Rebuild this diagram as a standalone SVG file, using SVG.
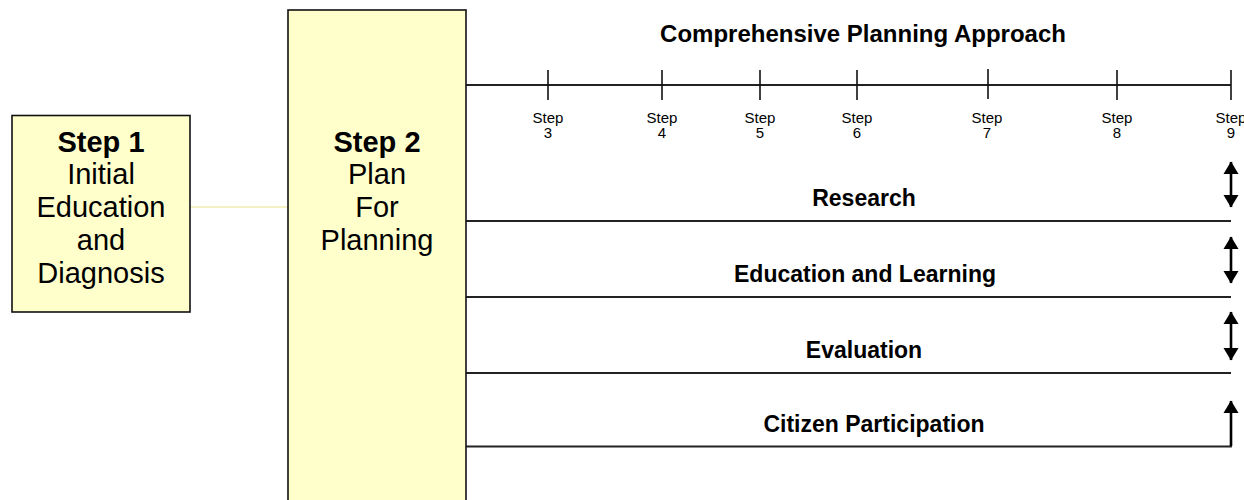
<svg xmlns="http://www.w3.org/2000/svg" width="1244" height="500" viewBox="0 0 1244 500">
  <style>
    .box { fill: #ffffcc; stroke: #111; stroke-width: 1.6; }
    .boxtxt { font-family: "Liberation Sans", Arial, sans-serif; font-size: 29px; fill: #000; text-anchor: middle; }
    .bold { font-weight: bold; }
    .title { font-family: "Liberation Sans", Arial, sans-serif; font-size: 24px; font-weight: bold; fill: #000; text-anchor: middle; }
    .row { font-family: "Liberation Sans", Arial, sans-serif; font-size: 23px; font-weight: bold; fill: #000; text-anchor: middle; }
    .step { font-family: "Liberation Sans", Arial, sans-serif; font-size: 15px; fill: #000; text-anchor: middle; }
    .rule { stroke: #222; stroke-width: 1.8; fill: none; }
    .tick { stroke: #111; stroke-width: 1.6; }
    .arrow { stroke: #000; stroke-width: 2.6; fill: none; }
    .link { stroke: #f0eeb0; stroke-width: 1.5; }
  </style>
  <defs>
    <marker id="head" markerUnits="userSpaceOnUse" markerWidth="13" markerHeight="16" refX="12" refY="8" orient="auto-start-reverse" viewBox="0 0 13 16">
      <path d="M0,0.5 L12.5,8 L0,15.5 z" fill="#000"/>
    </marker>
  </defs>

  <rect width="1244" height="500" fill="#fff"/>

  <!-- connectors -->
  <g id="connectors">
    <line class="link" x1="190" y1="207" x2="288" y2="207"/>
    <!-- timeline with step ticks -->
    <line class="rule" x1="466" y1="85" x2="1231" y2="85"/>
    <line class="tick" x1="548" y1="70" x2="548" y2="100"/>
    <line class="tick" x1="662" y1="70" x2="662" y2="100"/>
    <line class="tick" x1="760" y1="70" x2="760" y2="100"/>
    <line class="tick" x1="857" y1="70" x2="857" y2="100"/>
    <line class="tick" x1="988" y1="69" x2="988" y2="99"/>
    <line class="tick" x1="1117" y1="70" x2="1117" y2="100"/>
    <line class="tick" x1="1231" y1="70" x2="1231" y2="100"/>
    <!-- activity rows -->
    <line class="rule" x1="466" y1="221" x2="1231" y2="221"/>
    <line class="rule" x1="466" y1="297" x2="1231" y2="297"/>
    <line class="rule" x1="466" y1="373" x2="1231" y2="373"/>
    <polyline class="rule" points="466,446.5 1231,446.5 1231,430"/>
    <!-- row arrows -->
    <line class="arrow" x1="1231" y1="162" x2="1231" y2="207" marker-start="url(#head)" marker-end="url(#head)"/>
    <line class="arrow" x1="1231" y1="237" x2="1231" y2="283" marker-start="url(#head)" marker-end="url(#head)"/>
    <line class="arrow" x1="1231" y1="312" x2="1231" y2="360" marker-start="url(#head)" marker-end="url(#head)"/>
    <line class="arrow" x1="1231" y1="446" x2="1231" y2="401" marker-end="url(#head)"/>
  </g>

  <g id="step1">
    <rect class="box" x="12" y="115.5" width="178" height="196.5"/>
    <text class="boxtxt bold" x="101" y="152">Step 1</text>
    <text class="boxtxt" x="101" y="184">Initial</text>
    <text class="boxtxt" x="101" y="217">Education</text>
    <text class="boxtxt" x="101" y="250">and</text>
    <text class="boxtxt" x="101" y="283">Diagnosis</text>
  </g>

  <g id="step2">
    <rect class="box" x="288" y="10" width="178" height="500"/>
    <text class="boxtxt bold" x="377" y="152">Step 2</text>
    <text class="boxtxt" x="377" y="184">Plan</text>
    <text class="boxtxt" x="377" y="217">For</text>
    <text class="boxtxt" x="377" y="250">Planning</text>
  </g>

  <g id="approach">
    <text class="title" x="863" y="42">Comprehensive Planning Approach</text>
  </g>

  <g id="steps">
    <text class="step" x="548" y="123">Step</text><text class="step" x="548" y="138">3</text>
    <text class="step" x="662" y="123">Step</text><text class="step" x="662" y="138">4</text>
    <text class="step" x="760" y="123">Step</text><text class="step" x="760" y="138">5</text>
    <text class="step" x="857" y="123">Step</text><text class="step" x="857" y="138">6</text>
    <text class="step" x="987" y="123">Step</text><text class="step" x="987" y="138">7</text>
    <text class="step" x="1117" y="123">Step</text><text class="step" x="1117" y="138">8</text>
    <text class="step" x="1231" y="123">Step</text><text class="step" x="1231" y="138">9</text>
  </g>

  <g id="research"><text class="row" x="864" y="206">Research</text></g>
  <g id="education"><text class="row" x="865" y="282">Education and Learning</text></g>
  <g id="evaluation"><text class="row" x="864" y="358">Evaluation</text></g>
  <g id="participation"><text class="row" x="874" y="432">Citizen Participation</text></g>
</svg>
